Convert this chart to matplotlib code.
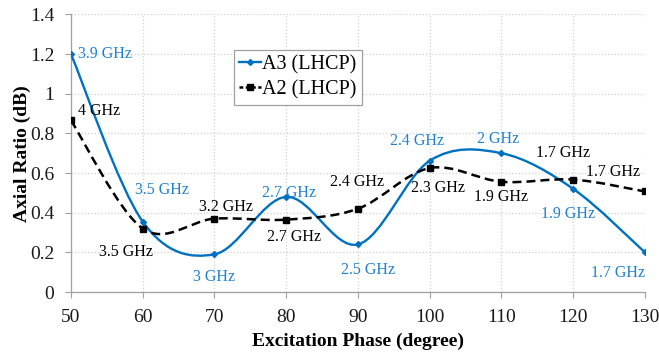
import matplotlib
matplotlib.use("Agg")
import matplotlib.pyplot as plt
from matplotlib.path import Path
from matplotlib.patches import PathPatch
from matplotlib.lines import Line2D
import matplotlib.ticker as mticker

plt.rcParams["font.family"] = ["Liberation Serif", "DejaVu Serif"]

PHASE = [50, 60, 70, 80, 90, 100, 110, 120, 130]
A3_AR = [1.20, 0.355, 0.19, 0.48, 0.24, 0.662, 0.70, 0.52, 0.20]
A2_AR = [0.865, 0.32, 0.37, 0.365, 0.42, 0.625, 0.556, 0.567, 0.507]
A3_FREQ = ["3.9 GHz", "3.5 GHz", "3 GHz", "2.7 GHz", "2.5 GHz",
           "2.4 GHz", "2 GHz", "1.9 GHz", "1.7 GHz"]
A2_FREQ = ["4 GHz", "3.5 GHz", "3.2 GHz", "2.7 GHz", "2.4 GHz",
           "2.3 GHz", "1.9 GHz", "1.7 GHz", "1.7 GHz"]

# label offsets (data units) relative to each point
A3_OFFS = [(1.0, 0.0, "left"), (2.7, 0.16, "center"), (-0.1, -0.115, "center"),
           (0.4, 0.02, "center"), (1.4, -0.13, "center"), (-1.7, 0.10, "center"),
           (-0.5, 0.07, "center"), (-0.7, -0.127, "center"), (-3.8, -0.104, "center")]
A2_OFFS = [(1.0, 0.048, "left"), (-2.3, -0.12, "center"), (1.6, 0.06, "center"),
           (1.1, -0.088, "center"), (-0.1, 0.135, "center"), (1.1, -0.10, "center"),
           (-0.1, -0.077, "center"), (-1.4, 0.133, "center"), (-4.5, 0.098, "center")]

BLUE = "#0070C0"
BLUE_TXT = "#1f80cf"
GRID = "#d0d0d0"
AXIS_GREY = "#a0a0a0"


def smooth_path(xs, ys):
    # Excel-style smoothed line: cubic Bezier through the points
    n = len(xs)
    verts = [(xs[0], ys[0])]
    codes = [Path.MOVETO]
    for i in range(n - 1):
        p0 = (xs[max(i - 1, 0)], ys[max(i - 1, 0)])
        p1 = (xs[i], ys[i])
        p2 = (xs[i + 1], ys[i + 1])
        p3 = (xs[min(i + 2, n - 1)], ys[min(i + 2, n - 1)])
        c1 = (p1[0] + (p2[0] - p0[0]) / 6, p1[1] + (p2[1] - p0[1]) / 6)
        c2 = (p2[0] - (p3[0] - p1[0]) / 6, p2[1] - (p3[1] - p1[1]) / 6)
        verts += [c1, c2, p2]
        codes += [Path.CURVE4] * 3
    return Path(verts, codes)


fig = plt.figure(figsize=(6.59, 3.53), dpi=100)
ax = fig.add_axes([0.1077, 0.1728, 0.8710, 0.7864])

ax.add_patch(PathPatch(smooth_path(PHASE, A3_AR), fill=False, edgecolor=BLUE, lw=1.7, zorder=3))
ax.plot(PHASE, A3_AR, ls="none", marker="D", ms=3, color=BLUE, zorder=4)

ax.add_patch(PathPatch(smooth_path(PHASE, A2_AR), fill=False, edgecolor="black", lw=1.8,
                       ls=(0, (3.6, 2.0)), zorder=3))
ax.plot(PHASE, A2_AR, ls="none", marker="s", ms=5, color="black", zorder=4)

for x, y, lab, (dx, dy, ha) in zip(PHASE, A3_AR, A3_FREQ, A3_OFFS):
    ax.text(x + dx, y + dy, lab, color=BLUE_TXT, fontsize=11.5, ha=ha, va="center", zorder=5)
for x, y, lab, (dx, dy, ha) in zip(PHASE, A2_AR, A2_FREQ, A2_OFFS):
    ax.text(x + dx, y + dy, lab, color="black", fontsize=11.5, ha=ha, va="center", zorder=5)

ax.set_xlim(50, 130)
ax.set_ylim(0, 1.4)
ax.set_xticks(range(50, 131, 10))
ax.set_yticks([0, 0.2, 0.4, 0.6, 0.8, 1.0, 1.2, 1.4])
ax.yaxis.set_major_formatter(mticker.FuncFormatter(lambda v, p: f"{v:g}"))
ax.tick_params(labelsize=14, color=AXIS_GREY, length=4, width=0.8, labelcolor="#1a1a1a")
ax.tick_params(axis="x", pad=8)
ax.tick_params(axis="y", pad=8)
ax.grid(True, ls=":", color=GRID, lw=0.9)
ax.set_axisbelow(True)
for side in ["top", "right"]:
    ax.spines[side].set_visible(False)
for side in ["left", "bottom"]:
    ax.spines[side].set_color(AXIS_GREY)
    ax.spines[side].set_linewidth(0.9)

ax.set_xlabel("Excitation Phase (degree)", fontsize=14, fontweight="bold", labelpad=5)
ax.set_ylabel("Axial Ratio (dB)", fontsize=14, fontweight="bold", labelpad=-1)

handles = [Line2D([], [], color=BLUE, lw=1.7, marker="D", ms=3),
           Line2D([], [], color="black", lw=1.8, ls=(0, (1.5, 1.0)), marker="s", ms=5)]
leg = ax.legend(handles, ["A3 (LHCP)", "A2 (LHCP)"], loc="upper left",
                bbox_to_anchor=(0.284, 0.872), borderaxespad=0, fontsize=14.5,
                handlelength=1.1, handletextpad=0.05, borderpad=0.25, labelspacing=0.3,
                fancybox=False, framealpha=1, edgecolor=AXIS_GREY)
leg.get_frame().set_linewidth(0.9)

fig.savefig("out.png", dpi=100)
